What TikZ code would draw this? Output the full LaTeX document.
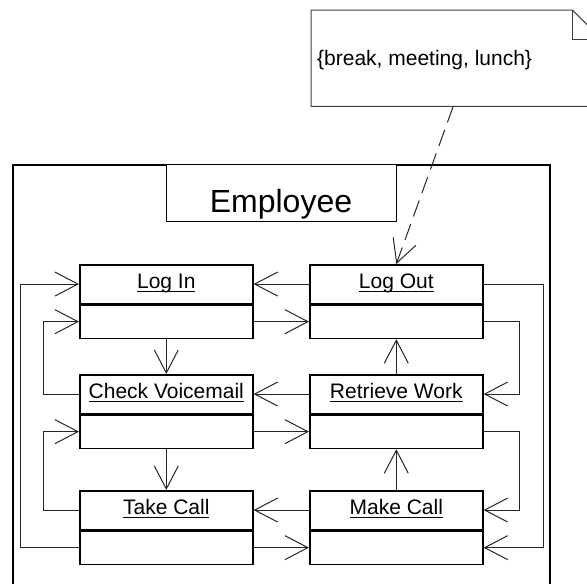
\documentclass[tikz,border=0pt]{standalone}
\usepackage{fontspec}
\setmainfont{Liberation Sans}
\usetikzlibrary{arrows.meta}
\newcommand{\uln}[1]{\setbox0\hbox{#1}\rlap{\rule[-3.6pt]{\wd0}{1.4pt}}\box0}
\begin{document}
\begin{tikzpicture}[x=1pt,y=-1pt,
  cls/.style={draw, line width=1.6pt, minimum width=173pt, inner sep=0pt,
    font=\fontsize{21pt}{25pt}\selectfont, text height=15pt, text depth=6pt},
  comptop/.style={cls, minimum height=38.5pt, anchor=north west},
  compbot/.style={cls, minimum height=33.5pt, anchor=north},
  conn/.style={draw=black!85, line width=1pt, -{Straight Barb[length=23pt,width=24pt]}},
  dconn/.style={conn, dash pattern=on 17pt off 8pt},
  notest/.style={draw=black!75, line width=1pt},
  smalltext/.style={font=\fontsize{21pt}{25pt}\selectfont, inner sep=0pt}]
\useasboundingbox (0,0) rectangle (587,584);
\clip (0,0) rectangle (587,584);
% frame
\node[draw, line width=1.6pt, minimum width=537pt, minimum height=440pt, anchor=north west, inner sep=0pt] (frame) at (12,164) {};
\node[draw, fill=white, line width=1.4pt, minimum width=230pt, minimum height=57pt, anchor=north west, inner sep=0pt] (emp) at (166,164) {};
\node[anchor=base, inner sep=0pt, font=\fontsize{32pt}{38pt}\selectfont] (emptxt) at (281,212) {Employee};
% note
\node[minimum width=290pt, minimum height=96pt, anchor=north west, inner sep=0pt] (note) at (311,10) {};
\draw[notest] (note.south west) -- (note.north west) -- ([xshift=-29pt]note.north east) -- ([yshift=-29pt]note.north east) -- (note.south east) -- cycle;
\draw[notest] ([xshift=-29pt]note.north east) |- ([yshift=-29pt]note.north east);
\node[smalltext, anchor=base west] (notetxt) at (317,65) {\{break, meeting, lunch\}};
% classes
\node[comptop] (li) at (79,264) {\uln{Log In}};
\node[compbot] (lib) at (li.south) {};
\node[comptop] (lo) at (309,264) {\uln{Log Out}};
\node[compbot] (lob) at (lo.south) {};
\node[comptop] (cv) at (79,374) {\uln{Check Voicemail}};
\node[compbot] (cvb) at (cv.south) {};
\node[comptop] (rw) at (309,374) {\uln{Retrieve Work}};
\node[compbot] (rwb) at (rw.south) {};
\node[comptop] (tc) at (79,490) {\uln{Take Call}};
\node[compbot] (tcb) at (tc.south) {};
\node[comptop] (mc) at (309,490) {\uln{Make Call}};
\node[compbot] (mcb) at (mc.south) {};
% dashed dependency
\draw[dconn] ([xshift=-3pt]note.south) -- (lo.north);
% straight connectors
\draw[conn] (lo.west) -- (li.east);
\draw[conn] (lib.east) -- (lob.west);
\draw[conn] (lib.south) -- (cv.north);
\draw[conn] (rw.north) -- (lob.south);
\draw[conn] (rw.west) -- (cv.east);
\draw[conn] (cvb.east) -- (rwb.west);
\draw[conn] (cvb.south) -- (tc.north);
\draw[conn] (mc.north) -- (rwb.south);
\draw[conn] (mc.west) -- (tc.east);
\draw[conn] (tcb.east) -- (mcb.west);
% left loops
\draw[conn] (tcb.west) -- ++(-59,0) |- (li.west);
\draw[conn] (cv.west) -- ++(-36,0) |- (lib.west);
\draw[conn] (tc.west) -- ++(-36,0) |- (cvb.west);
% right loops
\draw[conn] (lo.east) -- ++(60,0) |- (mcb.east);
\draw[conn] (lob.east) -- ++(36,0) |- (rw.east);
\draw[conn] (rwb.east) -- ++(36,0) |- (mc.east);
\end{tikzpicture}
\end{document}
